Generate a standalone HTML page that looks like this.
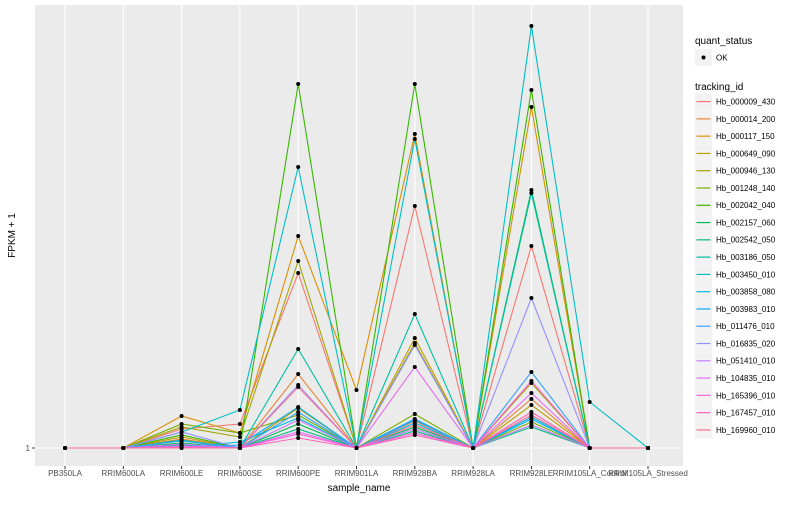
<!DOCTYPE html>
<html><head><meta charset="utf-8"><style>
body{margin:0;background:#fff;font-family:"Liberation Sans",sans-serif}
svg text{font-family:"Liberation Sans",sans-serif}
</style></head><body>
<svg id="chart" width="800" height="500" xmlns="http://www.w3.org/2000/svg"></svg>
<script>
const categories=["PB350LA","RRIM600LA","RRIM600LE","RRIM600SE","RRIM600PE","RRIM901LA","RRIM928BA","RRIM928LA","RRIM928LE","RRIM105LA_Control","RRIM105LA_Stressed"];
const trackingIds=["Hb_000009_430","Hb_000014_200","Hb_000117_150","Hb_000649_090","Hb_000946_130","Hb_001248_140","Hb_002042_040","Hb_002157_060","Hb_002542_050","Hb_003186_050","Hb_003450_010","Hb_003858_080","Hb_003983_010","Hb_011476_010","Hb_016835_020","Hb_051410_010","Hb_104835_010","Hb_165396_010","Hb_167457_010","Hb_169960_010"];
const colors=["#F8766D","#EA8331","#D89000","#C09B00","#A3A500","#7CAE00","#39B600","#00BB4E","#00BF7D","#00C1A3","#00BFC4","#00BAE0","#00B0F6","#35A2FF","#9590FF","#C77CFF","#E76BF3","#FA62DB","#FF62BC","#FF6C91"];
const s0=[1,1,20,25,176,1,243,1,203,1,1];
const s1=[1,1,10,1,75,1,28,1,50,1,1];
const s2=[1,1,33,16,213,59,315,1,342,1,1];
const s3=[1,1,12,1,41,1,111,1,44,1,1];
const s4=[1,1,22,12,188,1,106,1,66,1,1];
const s5=[1,1,25,16,34,1,35,1,27,1,1];
const s6=[1,1,14,1,365,1,365,1,359,1,1];
const s7=[1,1,6,1,25,1,22,1,259,1,1];
const s8=[1,1,4,1,20,1,18,1,22,1,1];
const s9=[1,1,9,1,100,1,135,1,256,1,1];
const s10=[1,1,17,39,282,1,310,1,423,47,1];
const s11=[1,1,2,7,31,1,26,1,32,1,1];
const s12=[1,1,2,4,42,1,30,1,30,1,1];
const s13=[1,1,8,1,37,1,29,1,77,1,1];
const s14=[1,1,17,1,64,1,104,1,151,1,1];
const s15=[1,1,5,1,29,1,20,1,24,1,1];
const s16=[1,1,3,1,17,1,82,1,56,1,1];
const s17=[1,1,2,1,15,1,16,1,68,1,1];
const s18=[1,1,1,1,11,1,14,1,37,1,1];
const s19=[1,1,1,1,62,1,24,1,34,1,1];
const series=[s0,s1,s2,s3,s4,s5,s6,s7,s8,s9,s10,s11,s12,s13,s14,s15,s16,s17,s18,s19];
const yTicks=[1];

const NS="http://www.w3.org/2000/svg";
const svg=document.getElementById('chart');
const L=35,R=683,T=5,B=466;
const xs=i=>65+i*((648-65)/(categories.length-1));
const ys=v=>448-(v-1)*1.0;
function mk(tag,attrs,parent){const e=document.createElementNS(NS,tag);for(const k in attrs)e.setAttribute(k,attrs[k]);(parent||svg).appendChild(e);return e;}

const panel=mk('rect',{x:L,y:T,width:R-L,height:B-T,fill:'#EBEBEB'});


yTicks.forEach(t=>{
  const g=mk('line',{x1:L,x2:R,y1:ys(t),y2:ys(t),stroke:'#fff','stroke-width':1.1});
  
  
  const tk=mk('line',{x1:L-3,x2:L,y1:ys(t),y2:ys(t),stroke:'#333','stroke-width':1});
  
  
  const tx=mk('text',{x:L-5,y:ys(t)+3,'font-size':8,'text-anchor':'end',fill:'#4D4D4D'});
  tx.textContent=t;
  
  
});
categories.forEach((c,i)=>{
  const g=mk('line',{x1:xs(i),x2:xs(i),y1:T,y2:B,stroke:'#fff','stroke-width':1.1});
  
  
  const tk=mk('line',{x1:xs(i),x2:xs(i),y1:B,y2:B+3,stroke:'#333','stroke-width':1});
  
  
  const tx=mk('text',{x:xs(i),y:B+10,'font-size':8,'text-anchor':'middle',fill:'#4D4D4D'});
  tx.textContent=c;
  
  
});
series.forEach((s,k)=>{
  const pl=mk('polyline',{points:s.map((v,i)=>xs(i)+','+ys(v)).join(' '),fill:'none',stroke:colors[k],'stroke-width':1.1});
  
  
});
series.forEach((s,k)=>{
  s.forEach((v,i)=>{
    const p=mk('circle',{cx:xs(i),cy:ys(v),r:2,fill:'#000'});
    
    
  });
});
const xt=mk('text',{x:(L+R)/2,y:491,'font-size':10,'text-anchor':'middle',fill:'#000'});
xt.textContent='sample_name';


const yt=mk('text',{x:0,y:0,'font-size':10,'text-anchor':'middle',fill:'#000',transform:'translate(15,'+((T+B)/2)+') rotate(-90)'});
yt.textContent='FPKM + 1';



const q=mk('text',{x:695,y:44,'font-size':10,fill:'#000'});
q.textContent='quant_status';


const qb=mk('rect',{x:695,y:49,width:17,height:17,fill:'#F2F2F2'});


const qp=mk('circle',{cx:703.5,cy:57.5,r:2,fill:'#000'});


const qt=mk('text',{x:716,y:60.5,'font-size':8,fill:'#000'});
qt.textContent='OK';


const tt=mk('text',{x:695,y:90,'font-size':10,fill:'#000'});
tt.textContent='tracking_id';


trackingIds.forEach((id,k)=>{
  const y0=93+k*17.28;
  const b=mk('rect',{x:695,y:y0,width:17,height:17.28,fill:'#F2F2F2'});
  
  
  const l=mk('line',{x1:696.5,x2:710.5,y1:y0+8.6,y2:y0+8.6,stroke:colors[k],'stroke-width':1.2});
  
  
  const t=mk('text',{x:716,y:y0+11.5,'font-size':8,fill:'#000'});
  t.textContent=id;
  
  
});
</script>
</body></html>
